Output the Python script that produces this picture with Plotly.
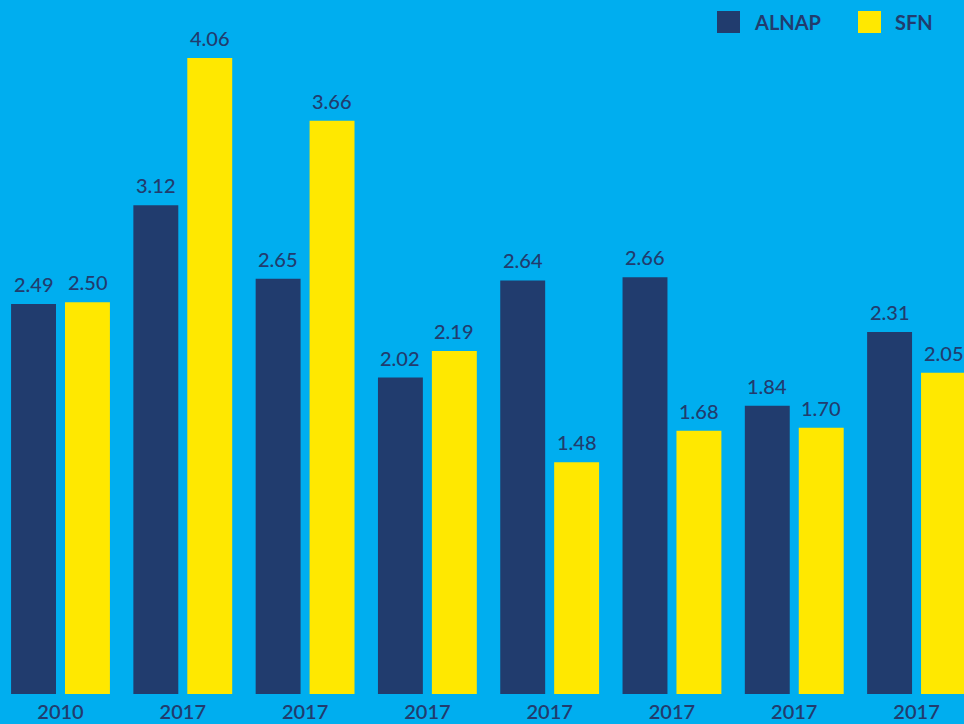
import plotly.graph_objects as go

categories = ["c0", "c1", "c2", "c3", "c4", "c5", "c6", "c7"]
tick_labels = ["2010", "2017", "2017", "2017", "2017", "2017", "2017", "2017"]
alnap = [2.49, 3.12, 2.65, 2.02, 2.64, 2.66, 1.84, 2.31]
sfn = [2.50, 4.06, 3.66, 2.19, 1.48, 1.68, 1.70, 2.05]

BG = "#00AEEF"
NAVY = "#213C6E"
YELLOW = "#FFE800"
FONT = "Lato"

fig = go.Figure()
fig.add_trace(go.Bar(x=categories, y=alnap, name="ALNAP", marker_color=NAVY,
                     marker_line_width=0, showlegend=False, hoverinfo="skip"))
fig.add_trace(go.Bar(x=categories, y=sfn, name="SFN", marker_color=YELLOW,
                     marker_line_width=0, showlegend=False, hoverinfo="skip"))

annotations = []
for c, a, s in zip(categories, alnap, sfn):
    annotations.append(dict(x=c, y=a, text=f"{a:.2f}", xref="x", yref="y",
                            showarrow=False, yanchor="bottom", xshift=-27, yshift=6,
                            font=dict(family=FONT, size=20, color=NAVY, weight=500)))
    annotations.append(dict(x=c, y=s, text=f"{s:.2f}", xref="x", yref="y",
                            showarrow=False, yanchor="bottom", xshift=27, yshift=6,
                            font=dict(family=FONT, size=20, color=NAVY, weight=500)))

# custom legend
shapes = [
    dict(type="rect", xref="paper", yref="paper", x0=717/964, x1=740/964,
         y0=1 - 33/694, y1=1 - 11/694, fillcolor=NAVY, line_width=0),
    dict(type="rect", xref="paper", yref="paper", x0=858/964, x1=881/964,
         y0=1 - 33/694, y1=1 - 11/694, fillcolor=YELLOW, line_width=0),
]
annotations.append(dict(x=752/964, y=1 - 22/694, xref="paper", yref="paper", text="<b>ALNAP</b>",
                        showarrow=False, xanchor="left", yanchor="middle",
                        font=dict(family=FONT, size=20, color=NAVY)))
annotations.append(dict(x=893/964, y=1 - 22/694, xref="paper", yref="paper", text="<b>SFN</b>",
                        showarrow=False, xanchor="left", yanchor="middle",
                        font=dict(family=FONT, size=20, color=NAVY)))

fig.update_layout(
    width=964, height=724,
    margin=dict(l=0, r=0, t=0, b=30),
    paper_bgcolor=BG, plot_bgcolor=BG,
    barmode="group", bargap=0.118, bargroupgap=0.167,
    annotations=annotations, shapes=shapes,
    font=dict(family=FONT, color=NAVY),
    hovermode=False,
)
fig.update_xaxes(tickmode="array", tickvals=categories, ticktext=tick_labels,
                 range=[-0.4947, 7.388], showgrid=False, zeroline=False, showline=False,
                 ticks="", tickfont=dict(family=FONT, size=20, color=NAVY, weight=600),
                 ticklabelstandoff=4)
fig.update_yaxes(range=[0, 4.43], showgrid=False, zeroline=False, showticklabels=False,
                 showline=False, ticks="")

fig.write_html("out.html", config={"displayModeBar": False},
               post_script="document.body.style.margin='0';document.body.style.overflow='hidden';")
